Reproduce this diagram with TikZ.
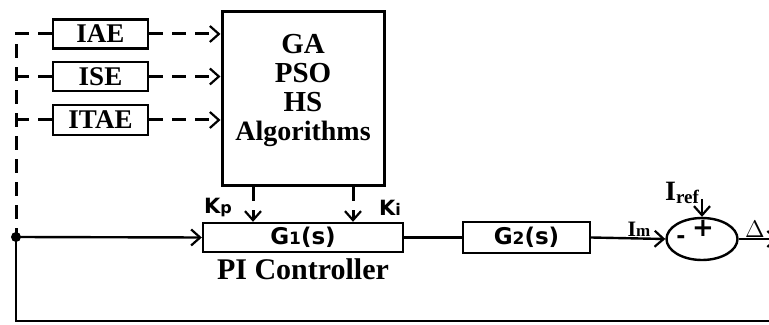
\documentclass[tikz,border=0pt]{standalone}
\usepackage{fontspec}
\setmainfont{Liberation Serif}
\newfontfamily\blocksans{DejaVu Sans}
\usetikzlibrary{shapes.geometric,arrows.meta}

\begin{document}
\begin{tikzpicture}[x=0.5pt,y=-0.5pt,
  blk/.style={draw,line width=1.2pt,inner sep=0pt},
  crit/.style={blk,minimum width=47.5pt,minimum height=14.5pt,font=\bfseries\fontsize{13.5}{13.5}\selectfont},
  tf/.style={blk,minimum height=15pt,font=\blocksans\bfseries\fontsize{11.5}{11.5}\selectfont},
  dashln/.style={line width=1.5pt,dash pattern=on 7pt off 4.5pt},
  sig/.style={line width=1.2pt},
  >={Straight Barb[length=4.5pt,width=8pt,line width=1.1pt]}]
  \useasboundingbox (0,0) rectangle (769,325);
  % optimisation block and the error criteria
  \node[blk,line width=1.5pt,minimum width=81pt,minimum height=87pt] (alg) at (303,99) {};
  \node[align=center,font=\bfseries\fontsize{14.5}{14.5}\selectfont] (algtxt) at (303,90) {GA\\PSO\\HS\\{\fontsize{14}{14.5}\selectfont Algorithms}};
  \node[crit] (iae) at (100.5,34) {IAE};
  \node[crit] (ise) at (100.5,76.5) {ISE};
  \node[crit,minimum height=15pt] (itae) at (100.5,120) {ITAE};
  % loop blocks
  \node[tf,minimum width=100pt,minimum height=14.5pt] (g1) at (303,237.5) {G{\fontsize{8.5}{8.5}\selectfont 1}(s)};
  \node[tf,minimum width=63.5pt,minimum height=15.5pt] (g2) at (526.5,237.5) {G{\fontsize{8.5}{8.5}\selectfont 2}(s)};
  \node[draw,ellipse,line width=1.2pt,inner sep=0pt,minimum width=35.5pt,minimum height=21pt] (sum) at (702,239) {};
  \coordinate (junc) at (16,237);
  \coordinate (lbot) at (16,321);
  \coordinate (rbot) at (775,321);
  \coordinate (irefin) at (702,199);
  \coordinate (outend) at (778,239);
  % dashed tuning paths
  \draw[dashln] (iae.west) -- (iae.west -| junc) -- (junc);
  \draw[dashln] (ise.west) -- (ise.west -| junc);
  \draw[dashln] (itae.west) -- (itae.west -| junc);
  \foreach \c in {iae,ise,itae} \draw[dashln,->] (\c.east) -- (\c.east -| alg.west);
  \draw[dashln,->] ([xshift=-25pt]alg.south) -- ([xshift=-25pt]g1.north);
  \draw[dashln,->] ([xshift=25pt]alg.south) -- ([xshift=25pt]g1.north);
  % signal paths
  \draw[sig,->] (junc) -- (g1.west);
  \draw[sig] (g1.east) -- (g2.west);
  \draw[sig,->] (g2.east) -- (sum.west);
  \draw[sig,->] (irefin) -- (sum.north);
  \draw[sig,->] (sum.east) -- (outend);
  \draw[sig] (junc) -- (lbot) -- (rbot);
  \fill (junc) circle (2.5pt);
  % labels
  \node[font=\blocksans\bfseries\fontsize{10.5}{10.5}\selectfont] (kp) at (218,208) {K{\fontsize{8}{8}\selectfont p}};
  \node[font=\blocksans\bfseries\fontsize{10.5}{10.5}\selectfont] (ki) at (390,208) {K{\fontsize{8}{8}\selectfont i}};
  \node[font=\bfseries\fontsize{15}{15}\selectfont] (pictl) at (303,269) {PI Controller};
  \node[font=\bfseries\fontsize{11}{11}\selectfont] (im) at (639,229) {I{\fontsize{8.5}{8.5}\selectfont m}};
  \node[font=\bfseries\fontsize{14}{14}\selectfont] (iref) at (682,193) {I{\fontsize{9.5}{9.5}\selectfont\raisebox{-1.5pt}{ref}}};
  \node[font=\blocksans\bfseries\fontsize{11}{11}\selectfont] (minus) at (681,240) {-};
  \node[font=\blocksans\bfseries\fontsize{13}{13}\selectfont] (plus) at (703,228) {+};
  \node[font=\fontsize{13}{13}\selectfont,inner sep=0pt] (dlt) at (755,229) {$\Delta$};
\end{tikzpicture}
\end{document}
